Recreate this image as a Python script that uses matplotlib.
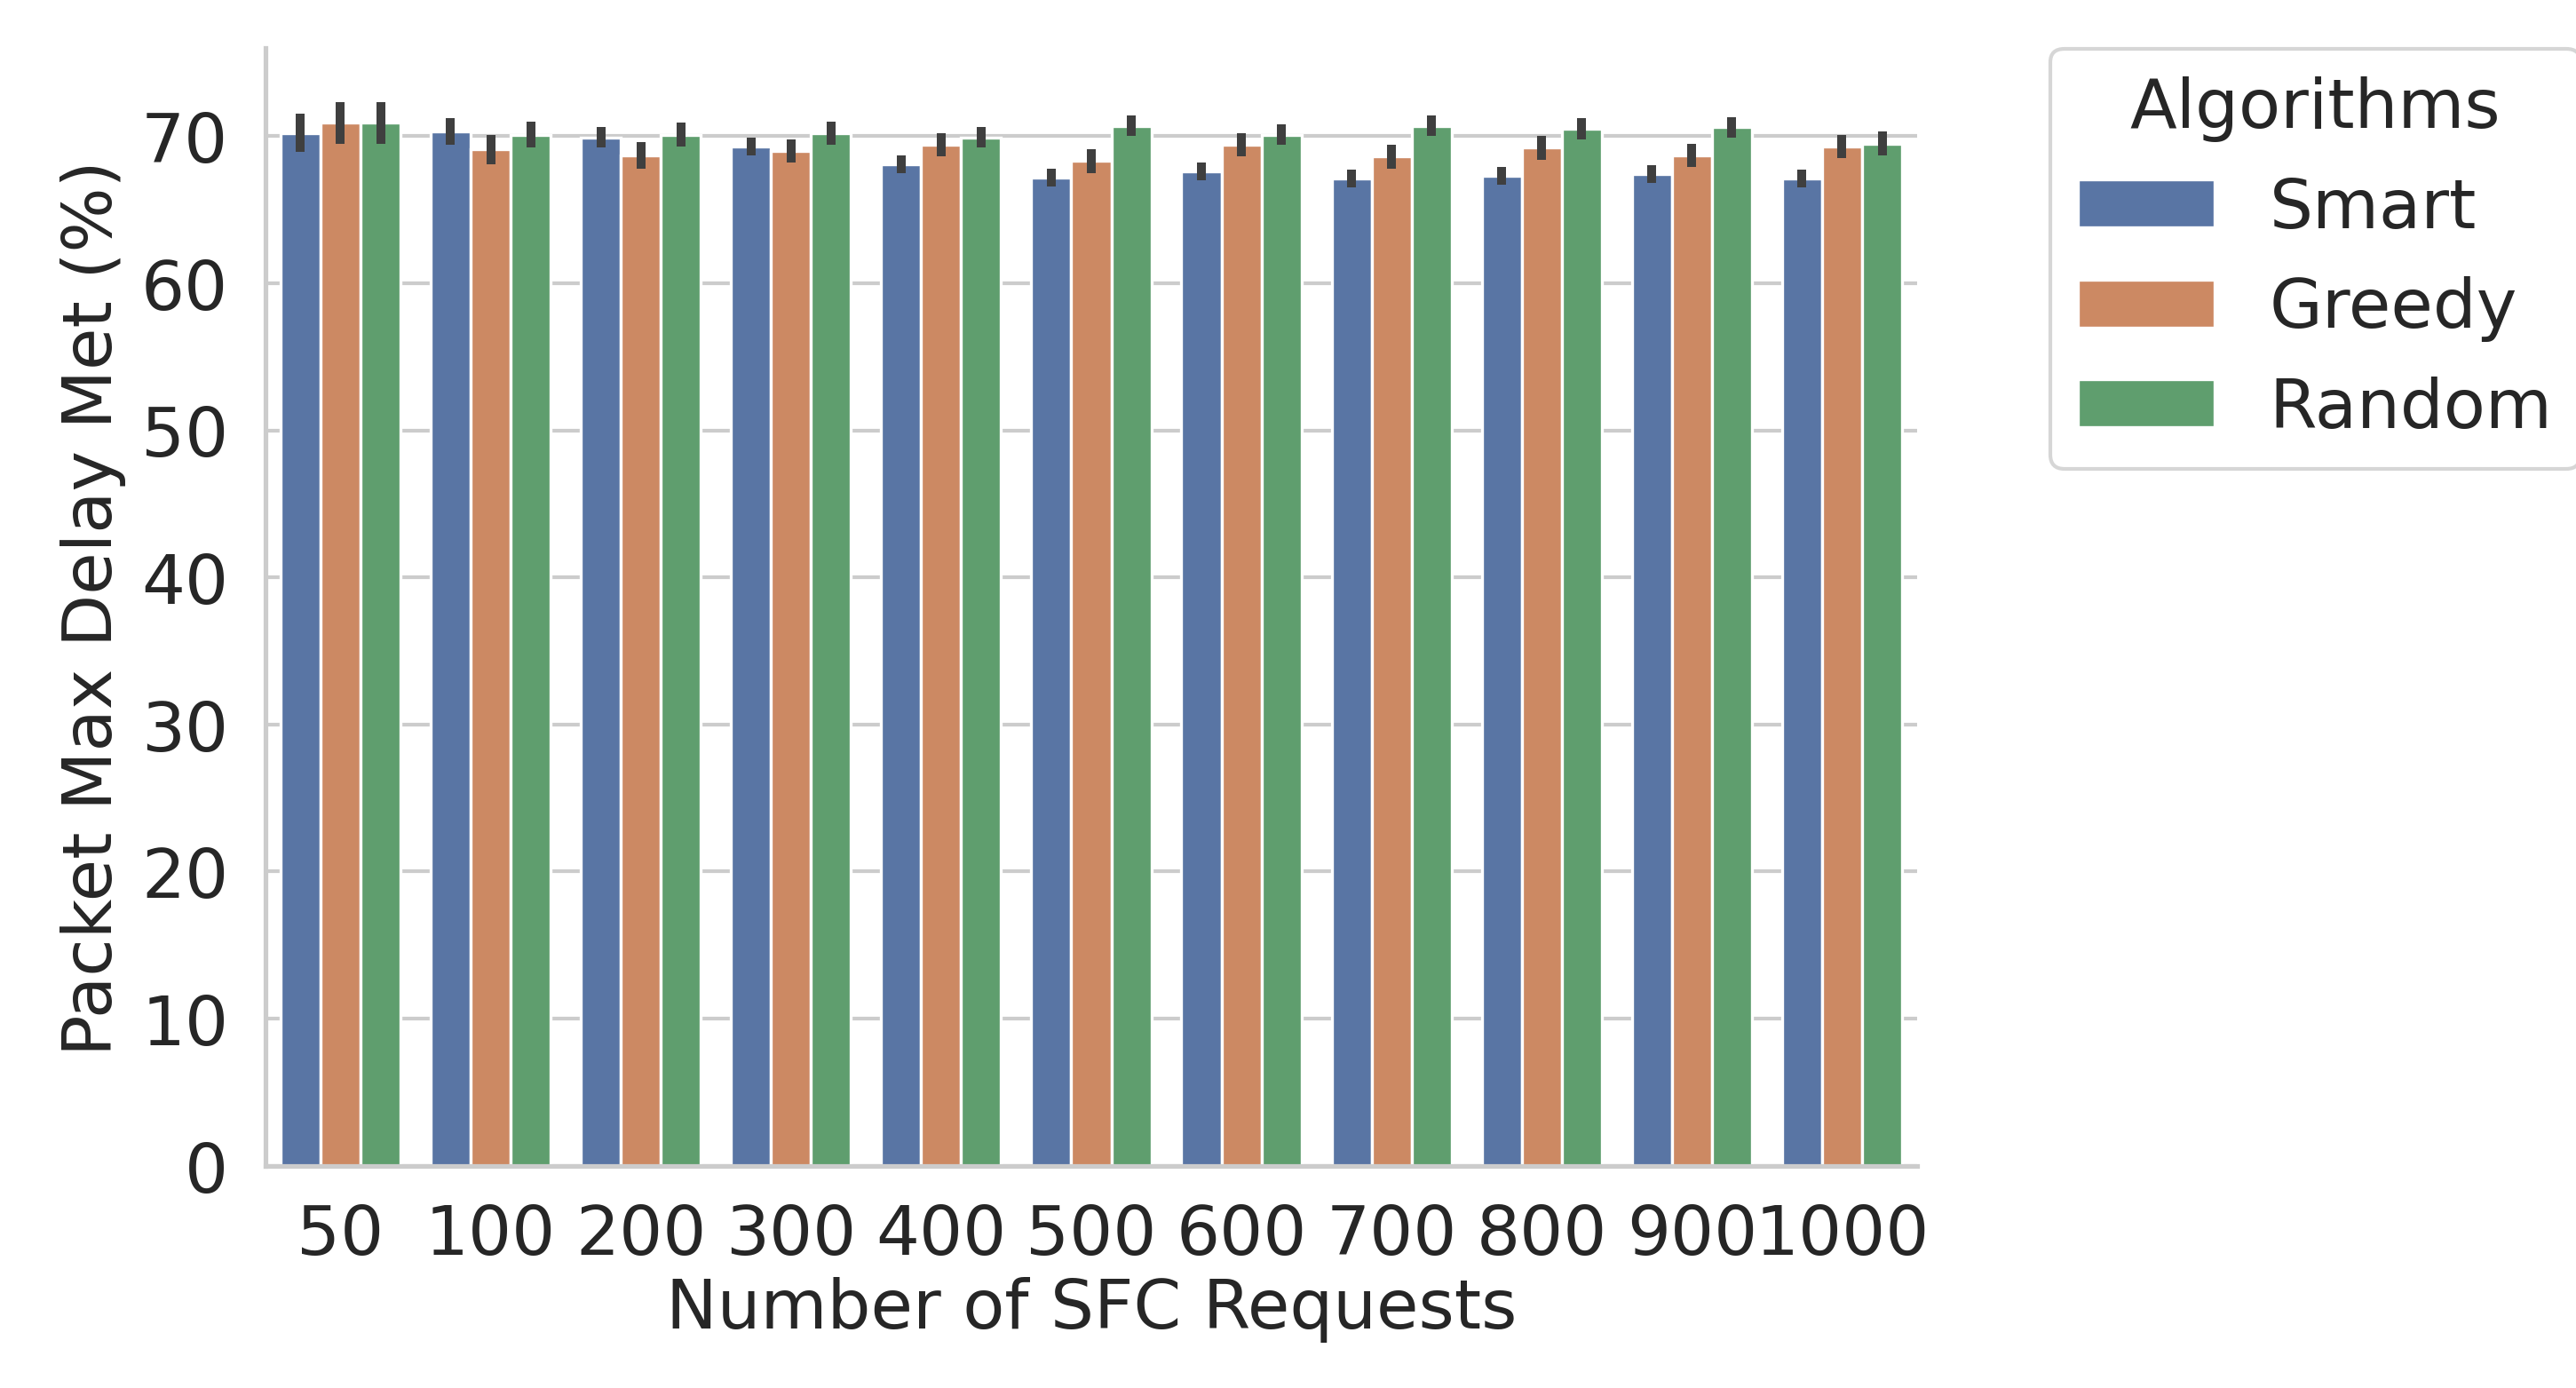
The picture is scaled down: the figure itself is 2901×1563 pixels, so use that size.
import matplotlib
matplotlib.use("Agg")
import matplotlib.pyplot as plt
import numpy as np
import seaborn as sns

sns.set_theme(style="whitegrid")

requests = ["50", "100", "200", "300", "400", "500", "600", "700", "800", "900", "1000"]
algorithms = ["Smart", "Greedy", "Random"]
smart = [70.2, 70.3, 69.9, 69.3, 68.1, 67.2, 67.6, 67.1, 67.3, 67.4, 67.1]
greedy = [70.9, 69.1, 68.7, 69.0, 69.4, 68.3, 69.4, 68.6, 69.2, 68.7, 69.3]
random_ = [70.9, 70.1, 70.1, 70.2, 69.9, 70.7, 70.1, 70.7, 70.5, 70.6, 69.5]
smart_err = [1.3, 0.9, 0.7, 0.6, 0.6, 0.6, 0.6, 0.6, 0.6, 0.6, 0.6]
greedy_err = [1.4, 1.0, 0.9, 0.8, 0.8, 0.8, 0.8, 0.8, 0.8, 0.8, 0.8]
random_err = [1.4, 0.9, 0.8, 0.8, 0.7, 0.7, 0.7, 0.7, 0.7, 0.7, 0.8]

colors = [sns.desaturate(c, 0.75) for c in sns.color_palette("deep")[:3]]
fig = plt.figure(figsize=(9.673, 5.213), dpi=300)
ax = fig.add_axes([0.103, 0.16, 0.641, 0.805])

x = np.arange(len(requests))
w = 0.8 / 3
for i, (name, vals, errs) in enumerate(zip(algorithms, [smart, greedy, random_],
                                           [smart_err, greedy_err, random_err])):
    ax.bar(x + (i - 1) * w, vals, w, color=colors[i], label=name,
           edgecolor="white", linewidth=0.8,
           yerr=errs, error_kw=dict(ecolor="#3f3f3f", elinewidth=2.4, capsize=0))

ax.set_xticks(x)
ax.set_xticklabels(requests)
ax.set_xlim(-0.5, len(requests) - 0.5)
ax.set_ylim(0, 76)
ax.set_yticks(range(0, 71, 10))
ax.tick_params(labelsize=18.5, pad=4)
ax.set_xlabel("Number of SFC Requests", fontsize=18.5, labelpad=2)
ax.set_ylabel("Packet Max Delay Met (%)", fontsize=18.5)
ax.xaxis.grid(False)
sns.despine(ax=ax)
leg = ax.legend(title="Algorithms", loc="upper left", bbox_to_anchor=(1.06, 1.03),
                fontsize=18.5, title_fontsize=18.5)

fig.savefig("out.png", dpi=300)
